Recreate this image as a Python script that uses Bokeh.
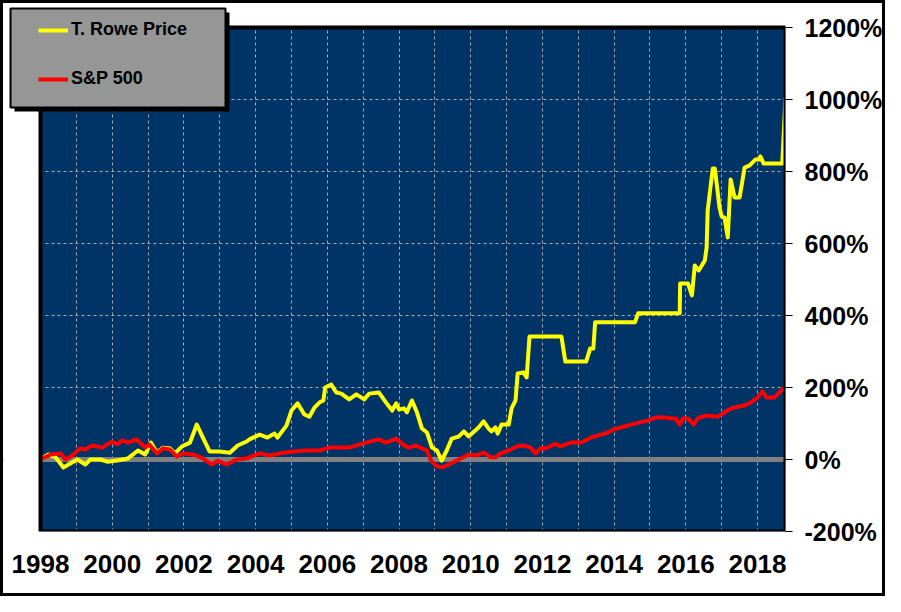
from bokeh.plotting import figure
from bokeh.models import (Span, Legend, LegendItem, BoxAnnotation, FixedTicker,
                          PrintfTickFormatter, BasicTickFormatter)
from bokeh.embed import file_html
from bokeh.resources import INLINE

# ---------------- data ----------------
series_names = ["T. Rowe Price", "S&P 500"]

trp_year = [1998.00, 1998.22, 1998.42, 1998.64, 1998.83, 1999.03, 1999.25, 1999.39, 1999.67, 1999.86,
            2000.14, 2000.44, 2000.72, 2000.92, 2001.08, 2001.25, 2001.42, 2001.61, 2001.75, 2001.94,
            2002.17, 2002.36, 2002.53, 2002.72, 2003.00, 2003.28, 2003.50, 2003.75, 2003.83, 2004.11,
            2004.33, 2004.53, 2004.61, 2004.86, 2005.00, 2005.17, 2005.36, 2005.50, 2005.64, 2005.78,
            2005.89, 2005.94, 2006.11, 2006.25, 2006.39, 2006.61, 2006.81, 2007.03, 2007.17, 2007.44,
            2007.64, 2007.81, 2007.92, 2008.00, 2008.14, 2008.22, 2008.36, 2008.50, 2008.64, 2008.78,
            2008.92, 2009.06, 2009.19, 2009.33, 2009.47, 2009.67, 2009.81, 2009.94, 2010.22, 2010.36,
            2010.50, 2010.58, 2010.69, 2010.75, 2010.86, 2011.06, 2011.14, 2011.25, 2011.31, 2011.47,
            2011.56, 2011.64, 2012.53, 2012.64, 2013.22, 2013.33, 2013.42, 2013.47, 2014.58, 2014.67,
            2015.83, 2015.84, 2016.06, 2016.17, 2016.25, 2016.36, 2016.53, 2016.58, 2016.61, 2016.75,
            2016.81, 2016.94, 2017.00, 2017.08, 2017.17, 2017.25, 2017.36, 2017.50, 2017.64, 2017.78,
            2017.94, 2018.06, 2018.08, 2018.17, 2018.69, 2018.78]
trp_pct = [0, 14, 6, -22, -11, 0, -14, 0, 0, -6,
           -3, 3, 25, 14, 47, 19, 33, 31, 17, 36,
           47, 97, 61, 22, 22, 19, 39, 50, 56, 69,
           61, 72, 61, 94, 136, 156, 125, 119, 144, 158,
           164, 200, 208, 186, 183, 167, 181, 167, 183, 186,
           158, 136, 156, 139, 142, 131, 164, 131, 86, 75,
           33, 25, -3, 25, 58, 64, 78, 64, 89, 106,
           86, 78, 89, 72, 97, 97, 142, 164, 239, 242,
           228, 342, 342, 272, 272, 308, 308, 381, 381, 406,
           406, 489, 489, 456, 539, 525, 553, 589, 692, 808,
           808, 700, 675, 672, 617, 778, 728, 728, 811, 817,
           833, 833, 842, 822, 822, 1006]

spx_year = [1998.00, 1998.28, 1998.56, 1998.69, 1998.89, 1999.11, 1999.25, 1999.44, 1999.72, 2000.00,
            2000.14, 2000.28, 2000.44, 2000.67, 2000.92, 2001.03, 2001.25, 2001.42, 2001.61, 2001.81,
            2001.97, 2002.25, 2002.53, 2002.78, 2002.94, 2003.19, 2003.47, 2003.75, 2004.11, 2004.39,
            2004.67, 2005.03, 2005.42, 2005.78, 2006.06, 2006.61, 2007.08, 2007.44, 2007.64, 2007.92,
            2008.14, 2008.28, 2008.47, 2008.64, 2008.78, 2008.89, 2009.06, 2009.19, 2009.39, 2009.67,
            2009.94, 2010.14, 2010.36, 2010.56, 2010.69, 2010.83, 2011.06, 2011.28, 2011.47, 2011.67,
            2011.81, 2011.94, 2012.11, 2012.36, 2012.50, 2012.78, 2013.08, 2013.36, 2013.64, 2013.83,
            2013.97, 2014.19, 2014.47, 2014.72, 2014.94, 2015.17, 2015.42, 2015.58, 2015.72, 2015.83,
            2015.92, 2016.06, 2016.22, 2016.33, 2016.56, 2016.89, 2017.08, 2017.31, 2017.64, 2017.81,
            2018.00, 2018.14, 2018.25, 2018.47, 2018.75]
spx_pct = [0, 14, 17, 0, 11, 31, 28, 39, 33, 50,
           42, 53, 47, 56, 33, 42, 17, 31, 28, 8,
           17, 14, 3, -14, -3, -14, 0, 3, 17, 11,
           17, 22, 25, 25, 33, 33, 47, 56, 47, 58,
           39, 33, 39, 31, 25, -3, -19, -22, -14, 0,
           14, 11, 19, 6, 6, 17, 25, 36, 39, 33,
           17, 31, 31, 44, 36, 47, 47, 61, 69, 75,
           83, 89, 97, 103, 108, 117, 117, 114, 114, 97,
           114, 114, 97, 114, 122, 119, 131, 144, 150, 158,
           172, 189, 172, 172, 200]

x_label_years = [1998, 2000, 2002, 2004, 2006, 2008, 2010, 2012, 2014, 2016, 2018]
x_grid_years = list(range(1998, 2019))
y_ticks = [-200, 0, 200, 400, 600, 800, 1000, 1200]

# plotted data window
X0, X1 = 1998.0, 2018.78
Y0, Y1 = -200.0, 1200.0

# ---------------- layout (canvas pixels) ----------------
W, H = 885, 596                 # element size incl. 3px css border (border-box)
FR_L, FR_T = 0, 0               # frame (extends up/left to host the legend)
PA_L, PA_T, PA_R, PA_B = 37, 24, 782, 528   # dark plot area
px_per_x = (PA_R - PA_L) / (X1 - X0)
px_per_y = (PA_B - PA_T) / (Y1 - Y0)
x_start = X0 - (PA_L - FR_L) / px_per_x
y_end = Y1 + (PA_T - FR_T) / px_per_y

p = figure(width=W, height=H, x_range=(x_start, X1), y_range=(Y0, y_end),
           y_axis_location="right", output_backend="svg", toolbar_location=None,
           background_fill_color="white", border_fill_color="white")
p.min_border_left = FR_L
p.min_border_top = FR_T
p.min_border_right = W - PA_R
p.min_border_bottom = H - PA_B
p.outline_line_color = None
p.styles = {"border": "3px solid black"}

FONT = "Liberation Sans"

# axes
xa = p.xaxis[0]
xa.ticker = FixedTicker(ticks=x_label_years)
xa.formatter = BasicTickFormatter(use_scientific=False)
xa.major_tick_out = 0
xa.major_tick_in = 0
xa.minor_tick_out = 0
xa.minor_tick_in = 0
xa.axis_line_color = None
xa.major_label_text_font = FONT
xa.major_label_text_font_style = "bold"
xa.major_label_text_font_size = "26px"
xa.major_label_text_color = "black"
xa.major_label_standoff = 23

ya = p.yaxis[0]
ya.ticker = FixedTicker(ticks=y_ticks)
ya.formatter = PrintfTickFormatter(format="%d%%")
ya.major_tick_out = 7
ya.major_tick_in = 0
ya.minor_tick_out = 0
ya.minor_tick_in = 0
ya.major_tick_line_color = "black"
ya.major_tick_line_width = 1
ya.axis_line_color = None
ya.major_label_text_font = FONT
ya.major_label_text_font_style = "bold"
ya.major_label_text_font_size = "25px"
ya.major_label_text_color = "black"
ya.major_label_standoff = 12

# dark plot area (drawn first)
p.add_layout(BoxAnnotation(left=X0, right=X1, bottom=Y0, top=Y1, fill_color="#003366",
                           fill_alpha=1, line_color=None, level="image"))

# grids
p.xgrid.ticker = FixedTicker(ticks=x_grid_years)
p.ygrid.ticker = FixedTicker(ticks=y_ticks)
for g in (p.xgrid[0], p.ygrid[0]):
    g.grid_line_color = "#a8a8a8"
    g.grid_line_width = 1
    g.grid_line_dash = "3 3"

# zero line
p.add_layout(Span(location=0, dimension="width", line_color="#808080",
                  line_width=5, level="underlay"))

# white masks outside the plot area (hide grid / zero line there)
p.add_layout(BoxAnnotation(bottom=Y1, fill_color="white", fill_alpha=1,
                           line_color=None, level="underlay"))
p.add_layout(BoxAnnotation(right=X0, fill_color="white", fill_alpha=1,
                           line_color=None, level="underlay"))

# series
r_trp = p.line(trp_year, trp_pct, line_color="#FFFF00", line_width=4, line_join="round")
r_spx = p.line(spx_year, spx_pct, line_color="#FF0000", line_width=4, line_join="round")

# plot area border
p.add_layout(BoxAnnotation(left=X0, right=X1, bottom=Y0, top=Y1, fill_alpha=0,
                           line_color="black", line_width=4, line_alpha=1))


def cbox(l, r, t, b, **kw):
    return BoxAnnotation(left=l, right=r, top=t, bottom=b,
                         left_units="canvas", right_units="canvas",
                         top_units="canvas", bottom_units="canvas", **kw)


# legend shadow and background
p.add_layout(cbox(8, 223, 6, 105, fill_color="black", fill_alpha=1, line_color=None))
p.add_layout(cbox(4, 219, 2, 101, fill_color="#969696", fill_alpha=1,
                  line_color="black", line_width=2, line_alpha=1))

# legend items: glyph x 35..64, centres y 28 and 76 (canvas)
pad = 4
leg_left = 35 - pad
leg_top = 28 - 10 - pad
leg_h = 2 * pad + 20 + 28 + 20
legend = Legend(items=[LegendItem(label=series_names[0], renderers=[r_trp]),
                       LegendItem(label=series_names[1], renderers=[r_spx])],
                location=(leg_left - FR_L, PA_B - (leg_top + leg_h)),
                padding=pad, spacing=28, margin=0,
                glyph_width=30, glyph_height=20, label_height=20, label_standoff=3,
                background_fill_alpha=0, border_line_alpha=0,
                label_text_font=FONT, label_text_font_style="bold",
                label_text_font_size="18px", label_text_color="black")
p.add_layout(legend, "center")

open("out.html", "w").write(file_html(p, INLINE))
